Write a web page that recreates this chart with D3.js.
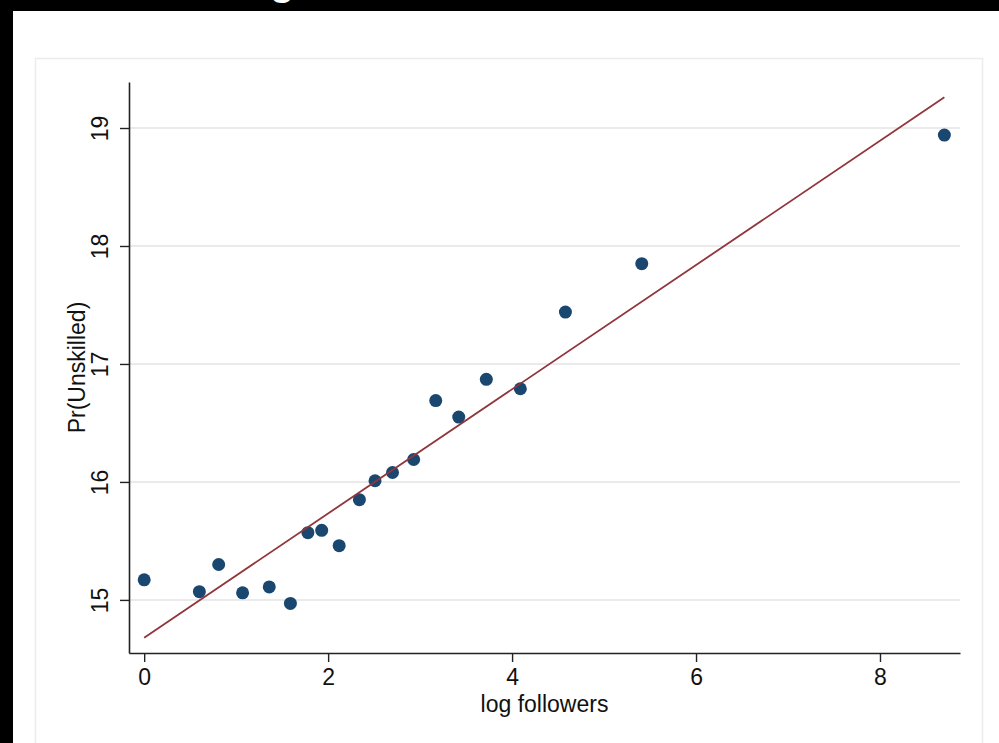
<!DOCTYPE html>
<html>
<head>
<meta charset="utf-8">
<script src="https://cdn.jsdelivr.net/npm/d3@7"></script>
<style>
  html, body { margin: 0; padding: 0; background: #000; }
  svg { display: block; }
  text { font-family: "Liberation Sans", Arial, sans-serif; }
</style>
</head>
<body>
<svg id="chart" width="999" height="743"></svg>
<script>
// Binned scatter: log followers vs. Pr(Unskilled)
const logFollowers = [0.00, 0.60, 0.81, 1.07, 1.36, 1.59, 1.78, 1.93, 2.12, 2.34, 2.51, 2.70, 2.93, 3.17, 3.42, 3.72, 4.09, 4.58, 5.41, 8.70];
const prUnskilled  = [15.17, 15.07, 15.30, 15.06, 15.11, 14.97, 15.57, 15.59, 15.46, 15.85, 16.01, 16.08, 16.19, 16.69, 16.55, 16.87, 16.79, 17.44, 17.85, 18.94];

// Fitted line end points
const fitX = [0.00, 8.70];
const fitY = [14.68, 19.26];

const xTicks = [0, 2, 4, 6, 8];
const yTicks = [15, 16, 17, 18, 19];
const xExtent = [-0.165, 8.87];
const yExtent = [14.55, 19.39];

const xTitle = "log followers";
const yTitle = "Pr(Unskilled)";

const svg = d3.select("#chart");

// page background and graph region
svg.append("rect").attr("x", 13).attr("y", 11).attr("width", 986).attr("height", 732).attr("fill", "#fff");
svg.append("rect").attr("x", 35.5).attr("y", 58.5).attr("width", 947).attr("height", 700)
  .attr("fill", "#fff").attr("stroke", "#ececec").attr("stroke-width", 1.5);

// cut-off heading glyph at the very top
svg.append("text").attr("x", 270).attr("y", -5)
  .attr("fill", "#fff").attr("font-size", 40).attr("font-weight", "bold").text("g");

const plot = { left: 129, right: 960, top: 82, bottom: 653 };

const x = d3.scaleLinear().domain(xExtent).range([plot.left, plot.right]);
const y = d3.scaleLinear().domain(yExtent).range([plot.bottom, plot.top]);

// horizontal grid
svg.append("g").selectAll("line").data(yTicks).join("line")
  .attr("x1", plot.left).attr("x2", plot.right)
  .attr("y1", d => y(d)).attr("y2", d => y(d))
  .attr("stroke", "#eaeaea").attr("stroke-width", 2);

// axes
const xAxis = svg.append("g").attr("transform", `translate(0,${plot.bottom})`)
  .call(d3.axisBottom(x).tickValues(xTicks).tickSize(9).tickSizeOuter(0).tickFormat(d3.format("d")));
xAxis.select(".domain").attr("stroke", "#222").attr("stroke-width", 1.6);
xAxis.selectAll(".tick line").attr("stroke", "#222").attr("stroke-width", 1.4);
xAxis.selectAll(".tick text").attr("y", 32).attr("dy", 0)
  .attr("font-size", 23).attr("fill", "#111").style("font-family", "Liberation Sans, Arial, sans-serif");

const yAxis = svg.append("g").attr("transform", `translate(${plot.left},0)`)
  .call(d3.axisLeft(y).tickValues(yTicks).tickSize(9).tickSizeOuter(0).tickFormat(d3.format("d")));
yAxis.select(".domain").attr("stroke", "#222").attr("stroke-width", 1.6);
yAxis.selectAll(".tick line").attr("stroke", "#222").attr("stroke-width", 1.4);
yAxis.selectAll(".tick text")
  .attr("transform", "rotate(-90)").attr("x", 0).attr("y", -21).attr("dy", 0)
  .attr("text-anchor", "middle")
  .attr("font-size", 23).attr("fill", "#111").style("font-family", "Liberation Sans, Arial, sans-serif");

// axis titles
svg.append("text")
  .attr("x", (plot.left + plot.right) / 2).attr("y", 712)
  .attr("text-anchor", "middle").attr("font-size", 23).attr("fill", "#111")
  .text(xTitle);
svg.append("text")
  .attr("transform", `translate(85,${(plot.top + plot.bottom) / 2}) rotate(-90)`)
  .attr("text-anchor", "middle").attr("font-size", 23).attr("fill", "#111")
  .text(yTitle);

// points
const pts = logFollowers.map((v, i) => ({ x: v, y: prUnskilled[i] }));
svg.append("g").selectAll("circle").data(pts).join("circle")
  .attr("cx", d => x(d.x)).attr("cy", d => y(d.y)).attr("r", 6.5)
  .attr("fill", "#1a476f");

// fitted line
const fit = fitX.map((v, i) => ({ x: v, y: fitY[i] }));
svg.append("path").datum(fit)
  .attr("d", d3.line().x(d => x(d.x)).y(d => y(d.y)))
  .attr("fill", "none").attr("stroke", "#90353b").attr("stroke-width", 1.8);
</script>
</body>
</html>
